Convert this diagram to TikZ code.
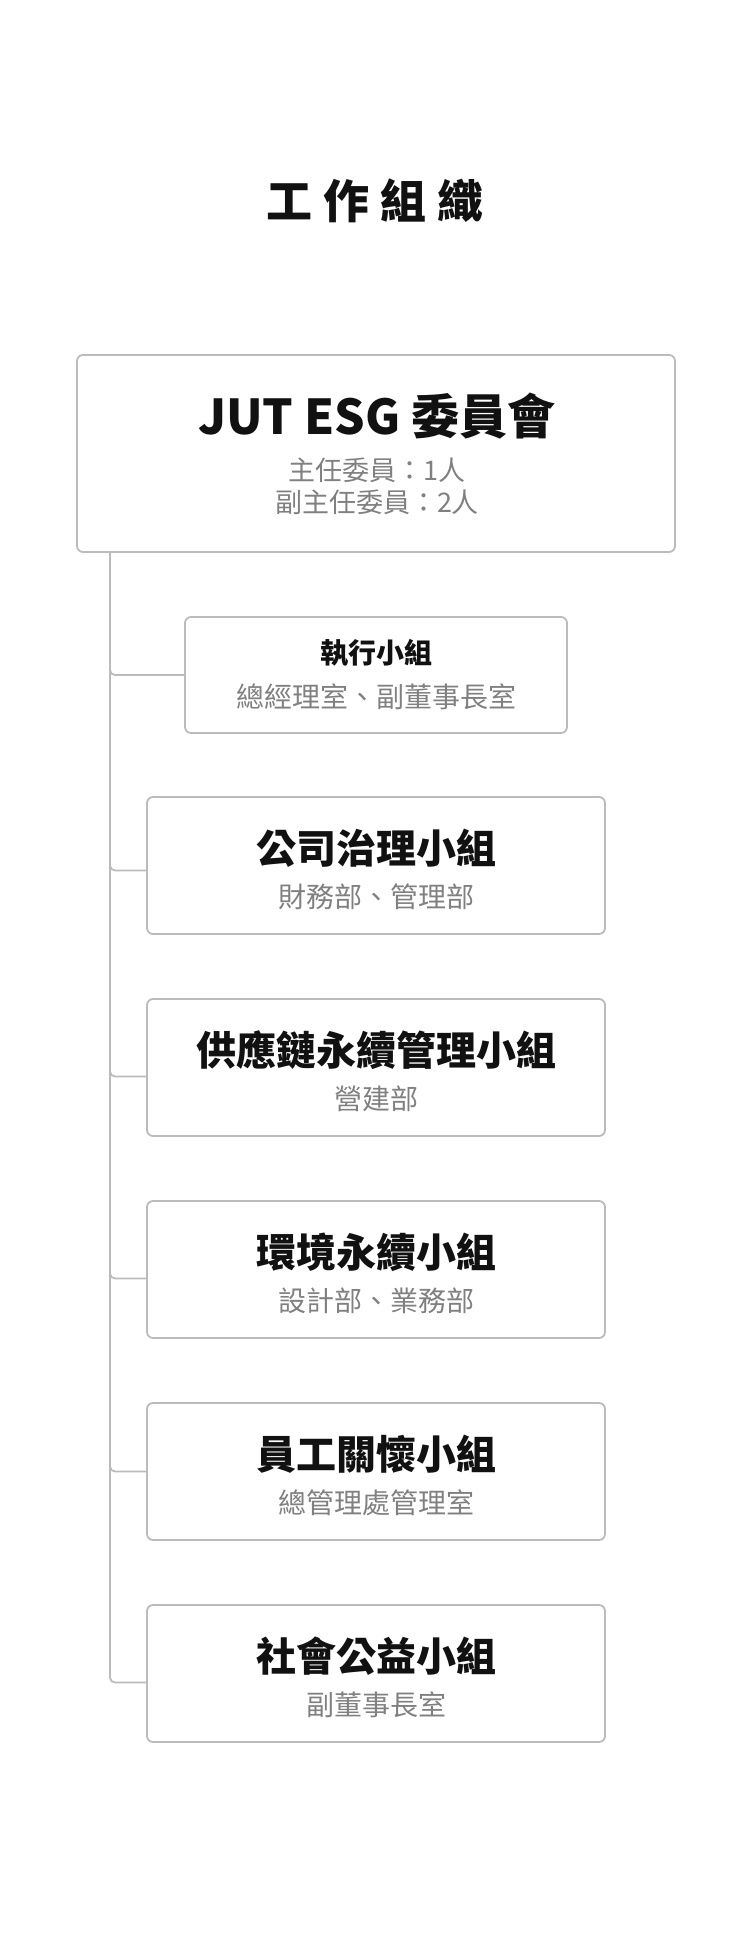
\documentclass[tikz,border=0pt]{standalone}
\usepackage{fontspec}
\setmainfont{Noto Sans CJK TC}
\usetikzlibrary{positioning}

\definecolor{linegray}{HTML}{BBBBBB}
\definecolor{subgray}{HTML}{808080}
\definecolor{inkblack}{HTML}{111111}

\tikzset{
    box/.style={draw=linegray, line width=1.8pt, rounded corners=6pt, minimum width=458pt, minimum height=137pt, inner sep=0pt},
    grouptitle/.style={font=\bfseries\fontsize{40}{48}\selectfont, text=inkblack, inner sep=0pt},
    groupsub/.style={font=\fontsize{28}{34}\selectfont, text=subgray, inner sep=0pt},
    link/.style={draw=linegray, line width=1.8pt, rounded corners=5pt},
}

\begin{document}
\begin{tikzpicture}[x=1pt, y=-1pt]
    \useasboundingbox (0,0) rectangle (750,1942);

    % Heading
    \node[font=\bfseries\fontsize{46}{52}\selectfont, text=inkblack, inner sep=0pt] (heading) at (375,201) {工\hspace{11pt}作\hspace{11pt}組\hspace{11pt}織};

    % Committee
    \node[box, minimum width=598pt, minimum height=197pt] (committee) at (376,453.5) {};
    \node[font=\bfseries\fontsize{48}{56}\selectfont, text=inkblack, inner sep=0pt] (committee title) at (377,416) {JUT ESG 委員會};
    \node[groupsub, font=\fontsize{27}{33}\selectfont] (chair) at (377,470) {主任委員：1人};
    \node[groupsub, font=\fontsize{27}{33}\selectfont] (vicechair) at (377,502) {副主任委員：2人};
    \coordinate (trunk) at (110,552); % top of the tree line

    % Executive group
    \node[box, minimum width=382pt, minimum height=116pt] (exec) at (376,675) {};
    \node[grouptitle, font=\bfseries\fontsize{28}{34}\selectfont] (exec title) at ([yshift=22]exec.center) {執行小組};
    \node[groupsub] (exec sub) at ([yshift=-22]exec.center) {總經理室、副董事長室};
    \draw[link] (trunk) |- (exec.west);

    % Working groups
    \foreach \name/\ttl/\sub/\i/\off in {
        gov/公司治理小組/財務部、管理部/0/5,
        supply/供應鏈永續管理小組/營建部/1/9,
        env/環境永續小組/設計部、業務部/2/9,
        staff/員工關懷小組/總管理處管理室/3/0,
        social/社會公益小組/副董事長室/4/9}
    {
        \node[box] (\name) at (376,{865.5+202*\i}) {};
        \node[grouptitle] (\name title) at ([yshift=17.5]\name.center) {\ttl};
        \node[groupsub] (\name sub) at ([yshift=-31.5]\name.center) {\sub};
        \draw[link] (trunk) |- ([yshift=-\off]\name.west);
    }
\end{tikzpicture}
\end{document}
